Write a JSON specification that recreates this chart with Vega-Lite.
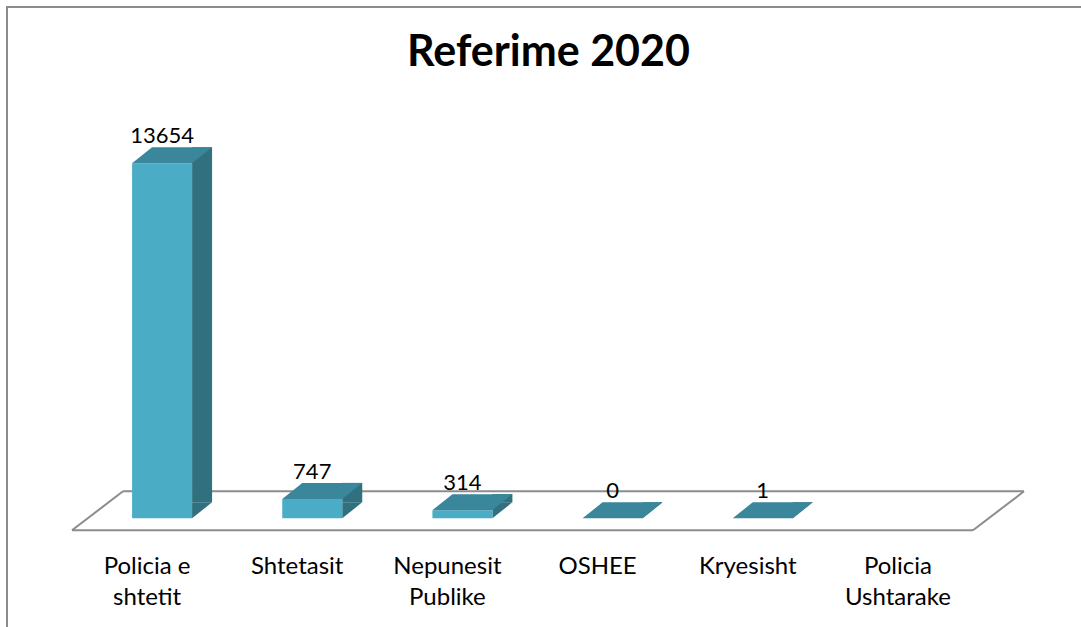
{
  "$schema": "https://vega.github.io/schema/vega-lite/v6.json",
  "width": 1077,
  "height": 623,
  "autosize": {"type": "none"},
  "padding": {"left": 7, "top": 7, "right": -3, "bottom": -3},
  "background": "white",
  "config": {
    "view": {"stroke": "#8c8c8c", "strokeWidth": 2, "fill": "white"},
    "font": "Lato"
  },
  "title": {
    "text": "Referime 2020",
    "font": "Lato",
    "fontSize": 43,
    "fontWeight": "bold",
    "color": "black",
    "anchor": "middle",
    "baseline": "alphabetic",
    "offset": -102,
    "dx": 3
  },
  "data": {
    "values": [
      {"category": "Policia e shtetit", "value": 13654},
      {"category": "Shtetasit", "value": 747},
      {"category": "Nepunesit Publike", "value": 314},
      {"category": "OSHEE", "value": 0},
      {"category": "Kryesisht", "value": 1},
      {"category": "Policia Ushtarake", "value": null}
    ]
  },
  "layer": [
    {
      "data": {"values": [{}]},
      "mark": {"type": "rule", "color": "#8c8c8c", "strokeWidth": 2, "yOffset": 12},
      "encoding": {
        "x": {
          "datum": "Policia e shtetit",
          "type": "nominal",
          "bandPosition": 0,
          "scale": {
            "domain": ["Policia e shtetit", "Shtetasit", "Nepunesit Publike", "OSHEE", "Kryesisht", "Policia Ushtarake"],
            "paddingInner": 0,
            "paddingOuter": 0.586,
            "align": 0.3693
          },
          "axis": {
            "title": null,
            "domain": false,
            "ticks": false,
            "grid": false,
            "labelFont": "Lato",
            "labelFontSize": 24,
            "labelColor": "black",
            "labelPadding": 0,
            "labelAngle": 0,
            "labelOverlap": false,
            "labelLineHeight": 31,
            "offset": -76,
            "labelExpr": "datum.label == 'Policia e shtetit' ? ['Policia e', 'shtetit'] : datum.label == 'Nepunesit Publike' ? ['Nepunesit', 'Publike'] : datum.label == 'Policia Ushtarake' ? ['Policia', 'Ushtarake'] : datum.label"
          }
        },
        "x2": {"datum": "Policia Ushtarake", "bandPosition": 1},
        "y": {
          "datum": 0,
          "type": "quantitative",
          "scale": {"domain": [-4296, 19665], "nice": false, "zero": false},
          "axis": null
        }
      }
    },
    {
      "data": {"values": [{}]},
      "mark": {"type": "rule", "color": "#8c8c8c", "strokeWidth": 2, "yOffset": -27, "xOffset": 51, "x2Offset": 51},
      "encoding": {
        "x": {"datum": "Policia e shtetit", "type": "nominal", "bandPosition": 0},
        "x2": {"datum": "Policia Ushtarake", "bandPosition": 1},
        "y": {"datum": 0, "type": "quantitative"}
      }
    },
    {
      "data": {"values": [{}]},
      "mark": {"type": "rule", "color": "#8c8c8c", "strokeWidth": 2, "yOffset": 12, "y2Offset": -27, "x2Offset": 51},
      "encoding": {
        "x": {"datum": "Policia e shtetit", "type": "nominal", "bandPosition": 0},
        "x2": {"datum": "Policia e shtetit", "bandPosition": 0},
        "y": {"datum": 0, "type": "quantitative"},
        "y2": {"datum": 0}
      }
    },
    {
      "data": {"values": [{}]},
      "mark": {"type": "rule", "color": "#8c8c8c", "strokeWidth": 2, "yOffset": 12, "y2Offset": -27, "x2Offset": 51},
      "encoding": {
        "x": {"datum": "Policia Ushtarake", "type": "nominal", "bandPosition": 1},
        "x2": {"datum": "Policia Ushtarake", "bandPosition": 1},
        "y": {"datum": 0, "type": "quantitative"},
        "y2": {"datum": 0}
      }
    },
    {
      "mark": {"type": "bar", "color": "#31707f", "width": 20, "xOffset": 55, "yOffset": -16, "y2Offset": -16},
      "encoding": {
        "x": {"field": "category", "type": "nominal"},
        "y": {"field": "value", "type": "quantitative"},
        "y2": {"datum": 0}
      }
    },
    {
      "transform": [{"filter": "datum.value != null"}],
      "mark": {"type": "point", "shape": "M0,0L1,-0.8L0,-0.8Z", "size": 1600, "filled": true, "opacity": 1, "strokeWidth": 0, "color": "#31707f", "xOffset": 45},
      "encoding": {
        "x": {"field": "category", "type": "nominal"},
        "y": {"datum": 0, "type": "quantitative"}
      }
    },
    {
      "mark": {"type": "bar", "color": "#4bacc6", "width": 60, "xOffset": 15},
      "encoding": {
        "x": {"field": "category", "type": "nominal"},
        "y": {"field": "value", "type": "quantitative"},
        "y2": {"datum": 0}
      }
    },
    {
      "mark": {"type": "point", "shape": "M0,0L3,0L4,-0.8L1,-0.8Z", "size": 1600, "filled": true, "opacity": 1, "strokeWidth": 0, "color": "#3a869b", "xOffset": -15},
      "encoding": {
        "x": {"field": "category", "type": "nominal"},
        "y": {"field": "value", "type": "quantitative"}
      }
    },
    {
      "mark": {"type": "text", "font": "Lato", "fontSize": 22, "color": "black", "xOffset": 15, "dy": -20, "baseline": "alphabetic", "align": "center"},
      "encoding": {
        "x": {"field": "category", "type": "nominal"},
        "y": {"field": "value", "type": "quantitative"},
        "text": {"field": "value", "type": "quantitative", "format": "d"}
      }
    }
  ]
}
